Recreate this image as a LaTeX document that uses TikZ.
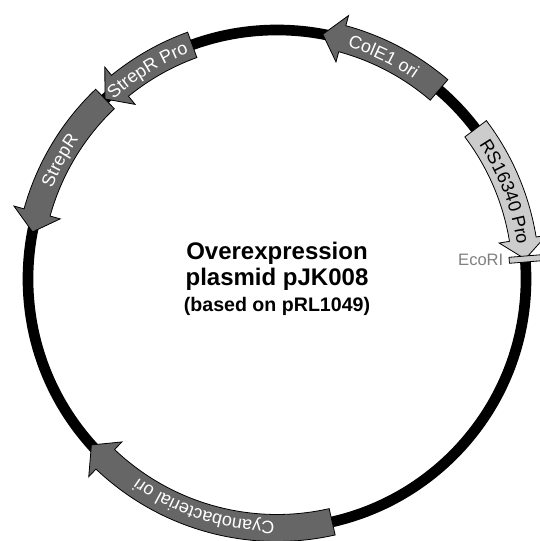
\documentclass[tikz,border=0pt]{standalone}
\usepackage{fontspec}
\setmainfont{Liberation Sans}
\usetikzlibrary{decorations.text,positioning}

\definecolor{featdark}{HTML}{666666}
\definecolor{featlight}{HTML}{CCCCCC}
\definecolor{sitegray}{HTML}{808080}

\tikzstyle{backbone} = [draw, line width=8pt]
\tikzstyle{darkfeature} = [draw, fill=featdark, line width=0.6pt]
\tikzstyle{lightfeature} = [draw, fill=featlight, line width=0.6pt]
\tikzstyle{site} = [rectangle, draw, fill=featlight, line width=0.6pt, minimum width=24pt, minimum height=4.5pt, inner sep=0pt]
\tikzstyle{sitelabel} = [text=sitegray, font=\fontsize{12.4}{14}\selectfont, inner sep=0pt]
\tikzstyle{title} = [align=center, font=\bfseries\fontsize{18}{19.5}\selectfont]

\newcommand{\featfont}{\fontsize{13.5}{16}\selectfont}
% style, tail angle, tip angle, text colour, label
\newcommand{\featarrow}[5]{%
  \pgfmathsetmacro{\headang}{#3-4.6*sign(#3-#2)}%
  \pgfmathsetmacro{\txtfrom}{max(#2,#3)}%
  \pgfmathsetmacro{\txtto}{min(#2,#3)}%
  \draw[#1] (#2:235.5) arc[start angle=#2, end angle=\headang, radius=235.5]
    -- (\headang:225) -- (#3:249) -- (\headang:273) -- (\headang:262.5)
    arc[start angle=\headang, end angle=#2, radius=262.5] -- cycle;
  \path[decorate, decoration={text along path, text align=center,
    text={|\featfont\color{#4}|#5}}]
    (\txtfrom:242.5) arc[start angle=\txtfrom, end angle=\txtto, radius=242.5];
}

\begin{document}
\begin{tikzpicture}[x=0.75pt, y=0.75pt]
\useasboundingbox (0,0) rectangle (539,541);
\begin{scope}[shift={(277,262)}]
\draw[backbone] (0,0) circle[radius=249];
% features
\featarrow{darkfeature}{49.4}{79.4}{white}{ColE1 ori}
\featarrow{darkfeature}{109.9}{133.7}{white}{StrepR Pro}
\featarrow{darkfeature}{133.7}{169.1}{white}{StrepR}
\featarrow{darkfeature}{282.8}{221.8}{white}{Cyanobacterial ori}
\featarrow{lightfeature}{37.1}{4.6}{black}{RS16340 Pro}
% restriction site
\node[site, rotate=4.6] (ecori) at (4.6:249) {};
\node[sitelabel, left=4pt of ecori.west] (ecorilabel) {EcoRI};
\node[title] (name) at (0,0) {Overexpression\\
  plasmid pJK008\\
  \fontsize{14.7}{17}\selectfont (based on pRL1049)};
\end{scope}
\end{tikzpicture}
\end{document}
